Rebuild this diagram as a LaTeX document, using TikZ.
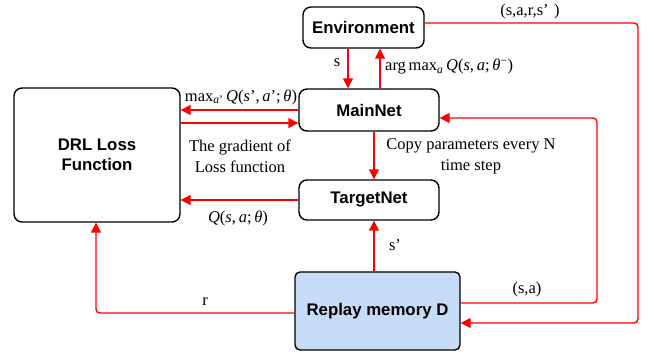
\documentclass[tikz,border=0pt]{standalone}
\usepackage{fontspec}
\setmainfont{Liberation Serif}
\newfontfamily\boxfont{Liberation Sans}
\usetikzlibrary{arrows.meta}
\definecolor{memblue}{HTML}{C6DBF6}
\definecolor{flowred}{HTML}{FF0000}
\newcommand{\qfun}[1]{\textit{Q}(#1)}
\tikzset{
  x=1pt, y=-1pt,
  block/.style={draw=black, line width=1.4pt, rounded corners=8pt, fill=white,
    font=\boxfont\bfseries\fontsize{16.8}{20}\selectfont, align=center,
    inner sep=0pt},
  flow/.style={draw=flowred, line width=1.4pt, rounded corners=4pt,
    -{Triangle[length=10pt,width=10pt]}},
  lbl/.style={font=\fontsize{16.5}{21}\selectfont, inner sep=1pt, align=center}
}
\begin{document}
\begin{tikzpicture}
\useasboundingbox (0,0) rectangle (649,358);

% blocks
\node[block, minimum width=121pt, minimum height=41pt] (env) at (363.5,27.5) {Environment};
\node[block, minimum width=140pt, minimum height=42pt] (main) at (369,110) {MainNet};
\node[block, minimum width=140pt, minimum height=40pt] (target) at (369,200) {TargetNet};
\node[block, minimum width=166pt, minimum height=134pt] (loss) at (97,155) {DRL Loss\\Function};
\node[block, fill=memblue, rounded corners=5pt, minimum width=165pt, minimum height=78pt] (replay) at (377.5,311) {Replay memory D};

% environment <-> main network
\draw[flow] (348,0 |- env.south) -- (348,0 |- main.north);
\draw[flow] (380,0 |- main.north) -- (380,0 |- env.south);
\node[lbl] (lbs) at (337,63) {s};
\node[lbl, anchor=west] (lbarg) at (384,67) {arg\,max\textsubscript{\textit{a}}\,\qfun{\textit{s},\,\textit{a};\,\textit{θ}\textsuperscript{−}}};

% main network <-> loss
\draw[flow] (main.west) -- (loss.east |- main.west);
\draw[flow] (loss.east |- 0,123) -- (main.west |- 0,123);
\node[lbl] (lbmax) at (241,97) {max\textsubscript{\textit{a}'}\,\qfun{\textit{s}',\,\textit{a}';\,\textit{θ}}};
\node[lbl] (lbgrad) at (240,156) {The gradient of\\Loss function};

% parameter copy
\draw[flow] (374,0 |- main.south) -- (374,0 |- target.north);
\node[lbl] (lbcopy) at (471,156) {Copy parameters every N\\time step};

% target network -> loss
\draw[flow] (target.west) -- (loss.east |- target.west);
\node[lbl] (lbq) at (238,218) {\qfun{\textit{s},\,\textit{a};\,\textit{θ}}};

% replay memory -> target network
\draw[flow] (374,0 |- replay.north) -- (374,0 |- target.south);
\node[lbl] (lbsp) at (395,245) {s’};

% reward to loss
\draw[flow] (replay.west |- 0,313) -| (96,0 |- loss.south);
\node[lbl] (lbr) at (205,302) {r};

% replay memory -> main network
\draw[flow] (replay.east |- 0,303) -| (597,118) -- (main.east |- 0,118);
\node[lbl] (lbsa) at (527,290) {(s,a)};

% environment -> replay memory
\draw[flow] (env.east |- 0,23) -| (638,323) -- (replay.east |- 0,323);
\node[lbl] (lbtr) at (530,12) {(s,a,r,s’\,\,)};
\end{tikzpicture}
\end{document}
